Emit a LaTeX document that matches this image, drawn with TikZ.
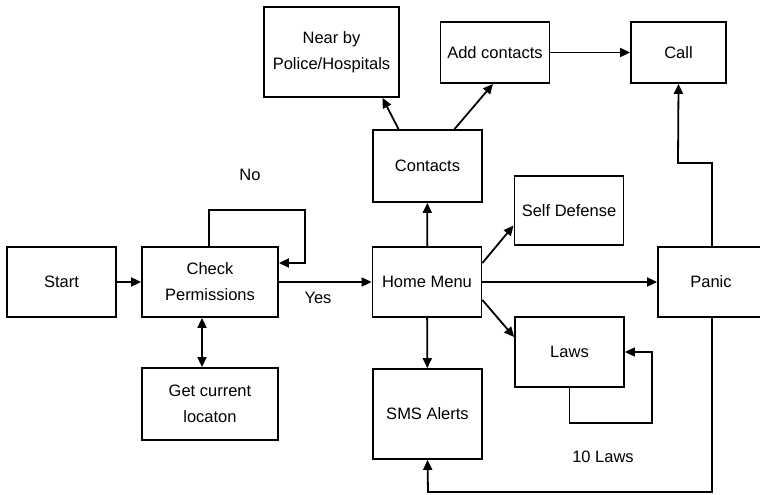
\documentclass[tikz,border=0pt]{standalone}
\usepackage{fontspec}
\setmainfont{Liberation Sans}
\usetikzlibrary{arrows.meta,positioning}

\begin{document}
\begin{tikzpicture}[
  x=1pt,y=-1pt,
  >={Triangle[length=10pt,width=9pt]},
  box/.style={rectangle,draw,line width=1.8pt,inner sep=0pt,align=center,font=\fontsize{16.5}{26}\selectfont},
  wide/.style={box,minimum width=136pt,minimum height=70pt},
  mid/.style={box,minimum width=109pt,minimum height=70pt},
  flow/.style={->,line width=1.8pt},
  lab/.style={font=\fontsize{16.5}{20}\selectfont}
]
  \useasboundingbox (0,0) rectangle (760,495);

  % left column
  \node[box,minimum width=109pt,minimum height=70pt] (start) at (61.5,282) {Start};
  \node[wide] (check) at (210,282) {Check\\Permissions};
  \node[wide,minimum height=72pt] (loc) at (210,404) {Get current\\locaton};

  % middle column
  \node[mid] (home) at (427,282) {Home Menu};
  \node[mid,minimum height=72pt] (contacts) at (427.5,166) {Contacts};
  \node[mid,minimum height=90pt] (sms) at (427.5,414) {SMS Alerts};
  \node[box,minimum width=135pt,minimum height=90pt] (near) at (331.5,52) {Near by\\Police/Hospitals};
  \node[mid,minimum height=61pt] (add) at (495,52.5) {Add contacts};

  % right part
  \node[mid,minimum height=69pt] (self) at (569,210.5) {Self Defense};
  \node[mid] (laws) at (569.5,352) {Laws};
  \node[box,minimum width=95pt,minimum height=61pt] (call) at (678.5,52.5) {Call};
  \node[box,minimum width=106pt,minimum height=70pt] (panic) at (711,282) {Panic};

  \draw[flow] (start) -- (check);
  \draw[flow] (check) -- (home);
  \draw[<->,line width=1.8pt] ([xshift=-8pt]check.south) -- ([xshift=-8pt]loc.north);
  \draw[flow] ([xshift=-1pt]check.north) |- (305,210) |- ([yshift=19pt]check.east);

  \draw[flow] (home) -- (contacts);
  \draw[flow] (home) -- (sms);
  \draw[flow] (home) -- (panic);
  \draw[flow] ([yshift=19pt]home.east) -- ([yshift=-15pt]self.west);
  \draw[flow] ([yshift=-18pt]home.east) -- ([yshift=15pt]laws.west);
  \draw[flow] ([xshift=-29pt]contacts.north) -- ([xshift=51pt]near.south);
  \draw[flow] ([xshift=27pt]contacts.north) -- ([xshift=-2pt]add.south);
  \draw[flow] (add) -- (call);

  \draw[flow] (laws.south) |- (652,423) |- (laws.east);
  \draw[flow] ([xshift=1pt]panic.north) |- (678,163) -- (call.south);
  \draw[flow] ([xshift=1pt]panic.south) |- (428,492) -- (sms.south);

  \node[lab] (no) at (250,175) {No};
  \node[lab] (yes) at (318,298) {Yes};
  \node[lab] (ten) at (603,457) {10 Laws};
\end{tikzpicture}
\end{document}
